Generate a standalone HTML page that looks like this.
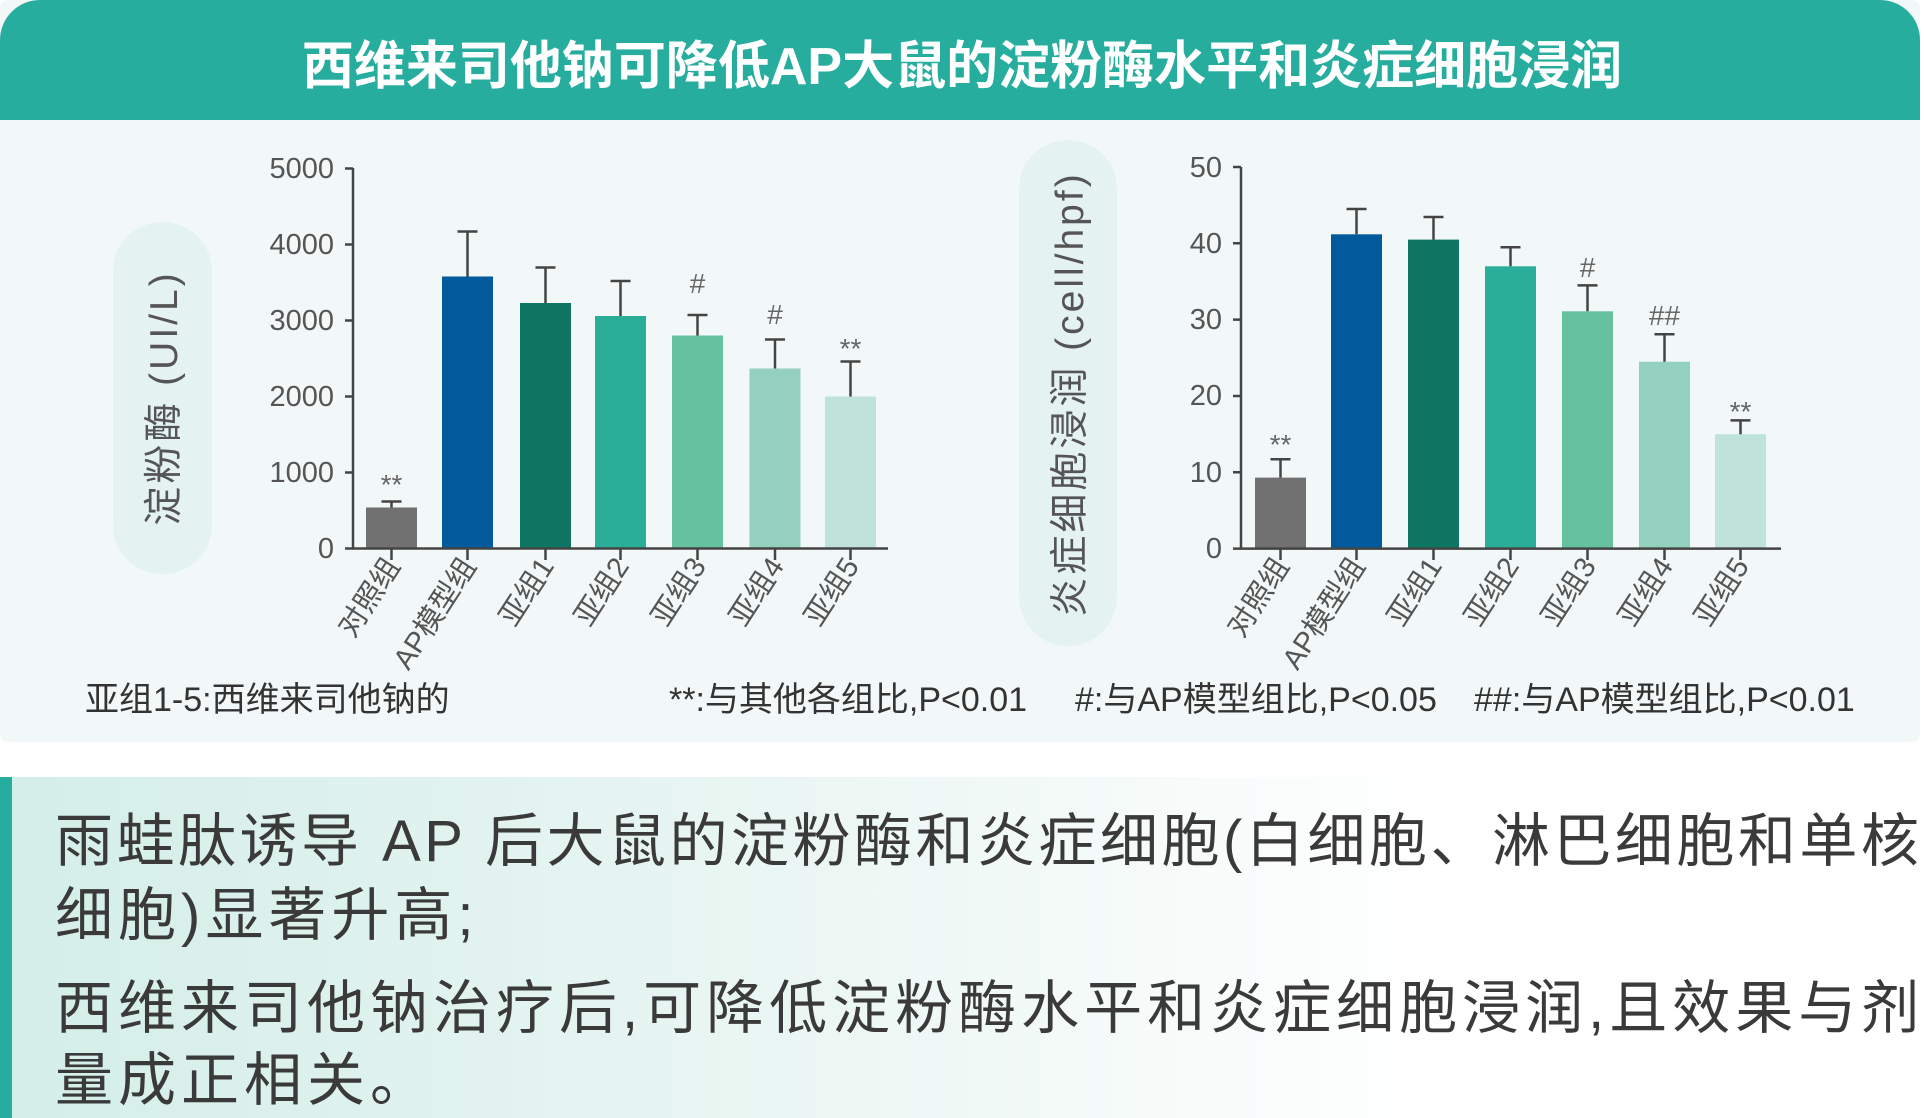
<!DOCTYPE html>
<html><head><meta charset="utf-8"><style>
html,body{margin:0;padding:0;background:#fff;}
body{width:1924px;height:1118px;position:relative;overflow:hidden;font-family:"Liberation Sans","Noto Sans CJK SC",sans-serif;}
svg{position:absolute;left:0;top:0;}
.box{position:absolute;left:0;top:777px;width:1924px;height:341px;background:linear-gradient(90deg,#d4eee8 0%,#eaf6f3 40%,#ffffff 75%);}
.bar{position:absolute;left:0;top:0;width:12px;height:341px;background:#26ad9e;}
.ln{position:absolute;left:55px;font-size:58px;letter-spacing:5px;color:#3a3a3a;white-space:nowrap;font-family:"Liberation Sans","Noto Sans CJK SC",sans-serif;}
</style></head><body>
<svg width="1924" height="1118" viewBox="0 0 1924 1118" font-family="Liberation Sans, Noto Sans CJK SC, sans-serif">
<rect x="0" y="0" width="1920" height="742" rx="8" fill="#f2f8f8"/>
<path d="M40 0 H1880 A40 40 0 0 1 1920 40 V120 H0 V40 A40 40 0 0 1 40 0Z" fill="#26ad9e"/>
<text x="962" y="84" text-anchor="middle" font-size="52" font-weight="bold" fill="#fff">西维来司他钠可降低AP大鼠的淀粉酶水平和炎症细胞浸润</text>
<rect x="113" y="222" width="99" height="352" rx="49" fill="#e4f2f1"/>
<rect x="1019" y="140" width="98" height="506" rx="49" fill="#e4f2f1"/>
<text transform="translate(177,398) rotate(-90)" text-anchor="middle" font-size="39" letter-spacing="3" fill="#555">淀粉酶 (UI/L)</text>
<text transform="translate(1083,394) rotate(-90)" text-anchor="middle" font-size="39" letter-spacing="3" fill="#555">炎症细胞浸润 (cell/hpf)</text>
<g fill="#555" font-size="29" text-anchor="end">
<text x="334" y="178">5000</text><text x="334" y="254">4000</text><text x="334" y="330">3000</text><text x="334" y="406">2000</text><text x="334" y="482">1000</text><text x="334" y="558">0</text>
<text x="1222" y="177">50</text><text x="1222" y="253">40</text><text x="1222" y="329">30</text><text x="1222" y="405">20</text><text x="1222" y="482">10</text><text x="1222" y="558">0</text>
</g>
<g>
<rect x="366" y="507.5" width="51" height="41" fill="#717171"/>
<rect x="442" y="276.5" width="51" height="272" fill="#005a9c"/>
<rect x="520" y="303" width="51" height="245.5" fill="#0e7563"/>
<rect x="595" y="316" width="51" height="232.5" fill="#2aae99"/>
<rect x="672" y="335.5" width="51" height="213" fill="#66c19f"/>
<rect x="749.5" y="368.5" width="51" height="180" fill="#93d0bd"/>
<rect x="825" y="396.5" width="51" height="152" fill="#bfe3da"/>
</g>
<g stroke="#444" stroke-width="2.5" fill="none">
<path d="M391.5 507.5V501.5M381.5 501.5H401.5"/>
<path d="M467.5 276.5V231.5M457.5 231.5H477.5"/>
<path d="M545.5 303V267.5M535.5 267.5H555.5"/>
<path d="M620.5 316V281M610.5 281H630.5"/>
<path d="M697.5 335.5V315M687.5 315H707.5"/>
<path d="M775 368.5V339.5M765 339.5H785"/>
<path d="M850.5 396.5V361.5M840.5 361.5H860.5"/>
<path d="M353 168V548.5H888"/>
<path d="M345 168.5H353M345 244.5H353M345 320.5H353M345 396.5H353M345 472.5H353M345 548.5H353"/>
<path d="M391.5 548.5V560M467.5 548.5V560M545.5 548.5V560M620.5 548.5V560M697.5 548.5V560M775 548.5V560M850.5 548.5V560"/>
</g>
<g>
<rect x="1255" y="477.6" width="51" height="71" fill="#717171"/>
<rect x="1331" y="234.3" width="51" height="314.3" fill="#005a9c"/>
<rect x="1408" y="239.6" width="51" height="309" fill="#0e7563"/>
<rect x="1485" y="266.3" width="51" height="282.3" fill="#2aae99"/>
<rect x="1562" y="311.3" width="51" height="237.3" fill="#66c19f"/>
<rect x="1639" y="361.7" width="51" height="186.9" fill="#93d0bd"/>
<rect x="1715" y="434.2" width="51" height="114.4" fill="#bfe3da"/>
</g>
<g stroke="#444" stroke-width="2.5" fill="none">
<path d="M1280.5 477.6V459.3M1270.5 459.3H1290.5"/>
<path d="M1356.5 234.3V209M1346.5 209H1366.5"/>
<path d="M1433.5 239.6V217M1423.5 217H1443.5"/>
<path d="M1510.5 266.3V247.2M1500.5 247.2H1520.5"/>
<path d="M1587.5 311.3V285.4M1577.5 285.4H1597.5"/>
<path d="M1664.5 361.7V334.2M1654.5 334.2H1674.5"/>
<path d="M1740.5 434.2V420.4M1730.5 420.4H1750.5"/>
<path d="M1241 167V548.6H1781"/>
<path d="M1233 167H1241M1233 243.3H1241M1233 319.6H1241M1233 396H1241M1233 472.3H1241M1233 548.6H1241"/>
<path d="M1280.5 548.6V560M1356.5 548.6V560M1433.5 548.6V560M1510.5 548.6V560M1587.5 548.6V560M1664.5 548.6V560M1740.5 548.6V560"/>
</g>
<g fill="#666" font-size="28" text-anchor="middle">
<text x="391.5" y="494">**</text><text x="697.5" y="293">#</text><text x="775" y="324">#</text><text x="850.5" y="358">**</text>
<text x="1280.5" y="454">**</text><text x="1587.5" y="277">#</text><text x="1664.5" y="325">##</text><text x="1740.5" y="421">**</text>
</g>
<g fill="#555" font-size="29" text-anchor="end">
<text transform="translate(401,566) rotate(-57)">对照组</text>
<text transform="translate(477,566) rotate(-57)">AP模型组</text>
<text transform="translate(555,566) rotate(-57)">亚组1</text>
<text transform="translate(630,566) rotate(-57)">亚组2</text>
<text transform="translate(707,566) rotate(-57)">亚组3</text>
<text transform="translate(785,566) rotate(-57)">亚组4</text>
<text transform="translate(860,566) rotate(-57)">亚组5</text>
<text transform="translate(1290,566) rotate(-57)">对照组</text>
<text transform="translate(1366,566) rotate(-57)">AP模型组</text>
<text transform="translate(1443,566) rotate(-57)">亚组1</text>
<text transform="translate(1520,566) rotate(-57)">亚组2</text>
<text transform="translate(1597,566) rotate(-57)">亚组3</text>
<text transform="translate(1674,566) rotate(-57)">亚组4</text>
<text transform="translate(1750,566) rotate(-57)">亚组5</text>
</g>
<g fill="#333" font-size="34">
<text x="85" y="711">亚组1-5:西维来司他钠的</text>
<text x="669" y="711">**:与其他各组比,P&lt;0.01</text>
<text x="1075" y="711">#:与AP模型组比,P&lt;0.05</text>
<text x="1474" y="711">##:与AP模型组比,P&lt;0.01</text>
</g>
</svg>
<div class="box"><div class="bar"></div>
<div class="ln" style="top:17px;letter-spacing:3.5px">雨蛙肽诱导 AP 后大鼠的淀粉酶和炎症细胞(白细胞、淋巴细胞和单核</div>
<div class="ln" style="top:91px">细胞)显著升高;</div>
<div class="ln" style="top:184px">西维来司他钠治疗后,可降低淀粉酶水平和炎症细胞浸润,且效果与剂</div>
<div class="ln" style="top:256px">量成正相关。</div>
</div>
</body></html>
